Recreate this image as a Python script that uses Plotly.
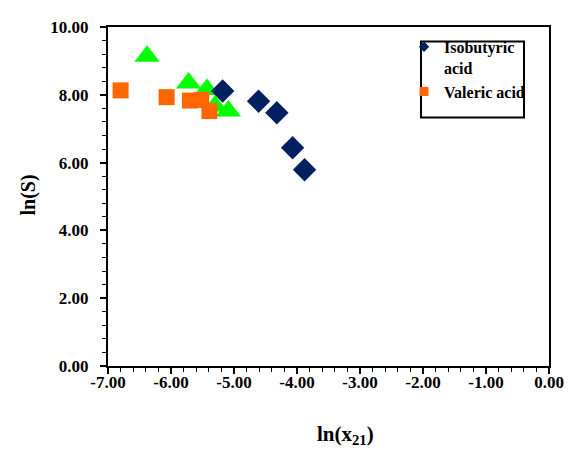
import plotly.graph_objects as go

# Data
iso_x = [-5.18, -4.61, -4.32, -4.07, -3.88]
iso_y = [8.11, 7.81, 7.47, 6.44, 5.79]

val_x = [-6.80, -6.07, -5.70, -5.52, -5.39]
val_y = [8.13, 7.93, 7.83, 7.85, 7.52]

tri_x = [-6.38, -5.72, -5.43, -5.30, -5.09]
tri_y = [9.14, 8.35, 8.16, 7.67, 7.52]

x_ticks = [-7, -6, -5, -4, -3, -2, -1, 0]
x_tick_labels = ["-7.00", "-6.00", "-5.00", "-4.00", "-3.00", "-2.00", "-1.00", "0.00"]
y_ticks = [0, 2, 4, 6, 8, 10]
y_tick_labels = ["0.00", "2.00", "4.00", "6.00", "8.00", "10.00"]

FONT = "Liberation Serif, Times New Roman, serif"
NAVY = "#002060"
ORANGE = "#FF6600"
GREEN = "#00FF00"

# page body has an 8px margin; figure is placed at (8, 8)
W, H = 571, 442
L, R, T, B = 100, 30, 10, 84
PW = W - L - R
PH = H - T - B


def px(xp):
    return (xp - 8 - L) / PW


def py(yp):
    return (H - B - (yp - 8)) / PH


fig = go.Figure()

fig.add_trace(go.Scatter(x=tri_x, y=tri_y, mode="markers", showlegend=False,
                         marker=dict(symbol="triangle-up", size=22, color=GREEN)))
fig.add_trace(go.Scatter(x=val_x, y=val_y, mode="markers", showlegend=False,
                         marker=dict(symbol="square", size=16, color=ORANGE)))
fig.add_trace(go.Scatter(x=iso_x, y=iso_y, mode="markers", showlegend=False,
                         marker=dict(symbol="diamond", size=18, color=NAVY)))

# legend entries
fig.add_trace(go.Scatter(x=[-100], y=[-100], mode="markers", name="<b>Isobutyric<br>acid</b>",
                         marker=dict(symbol="diamond", size=8, color=NAVY)))
fig.add_trace(go.Scatter(x=[-100], y=[-100], mode="markers", name="<b>Valeric acid</b>",
                         marker=dict(symbol="square", size=9, color=ORANGE)))

fig.update_layout(
    width=W, height=H,
    margin=dict(l=L, r=R, t=T, b=B),
    paper_bgcolor="white", plot_bgcolor="white",
    font=dict(family=FONT, size=14, color="black"),
    showlegend=True,
    legend=dict(x=px(404), y=py(21), xanchor="left", yanchor="top",
                bgcolor="rgba(0,0,0,0)", borderwidth=0, valign="top",
                font=dict(family=FONT, size=16, color="black"),
                itemwidth=30, tracegroupgap=0),
    xaxis=dict(range=[-7, 0], tickvals=x_ticks,
               ticktext=["<b>" + t + "</b>" for t in x_tick_labels],
               showgrid=False, zeroline=False, showline=True, linecolor="black",
               linewidth=2, mirror=True, ticks="outside", ticklen=6, tickwidth=1.5,
               tickcolor="black", ticklabelstandoff=-6,
               tickfont=dict(family=FONT, size=17, color="black"),
               minor=dict(dtick=0.2, ticks="outside", ticklen=4, tickcolor="black", tickwidth=1)),
    yaxis=dict(range=[0, 10], tickvals=y_ticks,
               ticktext=["<b>" + t + "</b>" for t in y_tick_labels],
               showgrid=False, zeroline=False, showline=True, linecolor="black",
               linewidth=2, mirror=True, ticks="outside", ticklen=6, tickwidth=1.5,
               tickcolor="black", ticklabelstandoff=8,
               tickfont=dict(family=FONT, size=17, color="black"),
               minor=dict(dtick=0.4, ticks="outside", ticklen=4, tickcolor="black", tickwidth=1)),
    shapes=[dict(type="rect", xref="paper", yref="paper",
                 x0=px(421), x1=px(524), y0=py(111), y1=py(33),
                 line=dict(color="black", width=2), fillcolor="rgba(0,0,0,0)")],
    annotations=[
        dict(text="<b>ln(x<sub>21</sub>)</b>", xref="paper", yref="paper",
             x=px(345), y=py(437), showarrow=False,
             xanchor="center", yanchor="middle",
             font=dict(family=FONT, size=21, color="black")),
        dict(text="<b>ln(S)</b>", xref="paper", yref="paper", textangle=-90,
             x=px(29), y=py(191), showarrow=False,
             xanchor="center", yanchor="middle",
             font=dict(family=FONT, size=20, color="black")),
    ],
)

fig.write_html("out.html")
